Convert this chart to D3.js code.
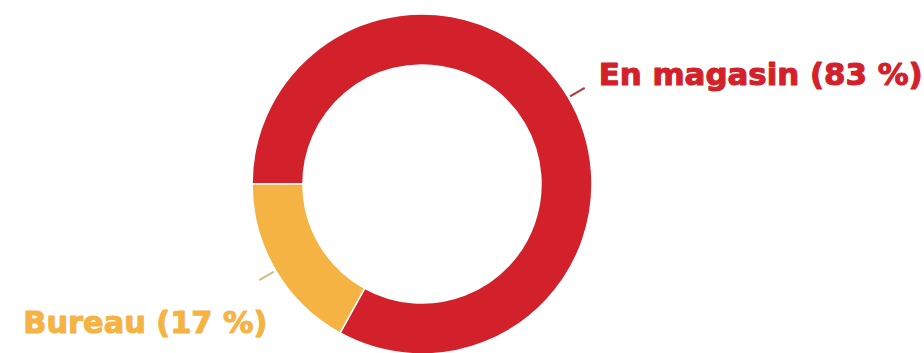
<!DOCTYPE html>
<html>
<head>
<meta charset="utf-8">
<script src="https://cdn.jsdelivr.net/npm/d3@7"></script>
<style>
  html, body { margin: 0; padding: 0; background: #fff; }
  svg { display: block; }
</style>
</head>
<body>
<svg width="924" height="353"></svg>
<script>
const categories = ['En magasin', 'Bureau'];
const values = [83, 17];
const labels = ['En magasin (83 %)', 'Bureau (17 %)'];
const colors = ['#d3212b', '#f4b343'];
const lineColors = ['#b3343f', '#c9bc8e'];

const svg = d3.select('svg');
const cx = 422, cy = 184;
const outerR = 170, innerR = 119;

const g = svg.append('g').attr('transform', `translate(${cx},${cy})`);

const pie = d3.pie()
    .sort(null)
    .value(d => d.value)
    .startAngle(-Math.PI / 2)
    .endAngle(1.5 * Math.PI);

const data = categories.map((c, i) => ({ name: c, value: values[i], label: labels[i], color: colors[i], line: lineColors[i] }));
const arcs = pie(data);

const arc = d3.arc().innerRadius(innerR).outerRadius(outerR);

g.selectAll('path.slice')
    .data(arcs)
    .join('path')
    .attr('class', 'slice')
    .attr('d', arc)
    .attr('fill', d => d.data.color)
    .attr('stroke', '#fff')
    .attr('stroke-width', 1.5);

// petits traits de repère
const lineArc0 = d3.arc().innerRadius(172).outerRadius(172);
const lineArc1 = d3.arc().innerRadius(189).outerRadius(189);

g.selectAll('line.tick')
    .data(arcs)
    .join('line')
    .attr('class', 'tick')
    .attr('x1', d => lineArc0.centroid(d)[0])
    .attr('y1', d => lineArc0.centroid(d)[1])
    .attr('x2', d => lineArc1.centroid(d)[0])
    .attr('y2', d => lineArc1.centroid(d)[1])
    .attr('stroke', d => d.data.line)
    .attr('stroke-width', 2);

// étiquettes (police très grasse, largeur calée)
const labelOffsets = [
    { dx: 14, dy: -3, anchor: 'start', w: 324 },
    { dx: 8, dy: 53, anchor: 'end', w: 244 }
];

g.selectAll('text.label')
    .data(arcs)
    .join('text')
    .attr('class', 'label')
    .attr('x', (d, i) => lineArc1.centroid(d)[0] + labelOffsets[i].dx)
    .attr('y', (d, i) => lineArc1.centroid(d)[1] + labelOffsets[i].dy)
    .attr('text-anchor', (d, i) => labelOffsets[i].anchor)
    .attr('textLength', (d, i) => labelOffsets[i].w)
    .attr('lengthAdjust', 'spacingAndGlyphs')
    .attr('fill', d => d.data.color)
    .attr('stroke', d => d.data.color)
    .attr('stroke-width', 1.1)
    .attr('stroke-linejoin', 'round')
    .attr('font-family', '"DejaVu Sans", sans-serif')
    .attr('font-weight', 'bold')
    .attr('font-size', 31)
    .text(d => d.data.label);
</script>
</body>
</html>
